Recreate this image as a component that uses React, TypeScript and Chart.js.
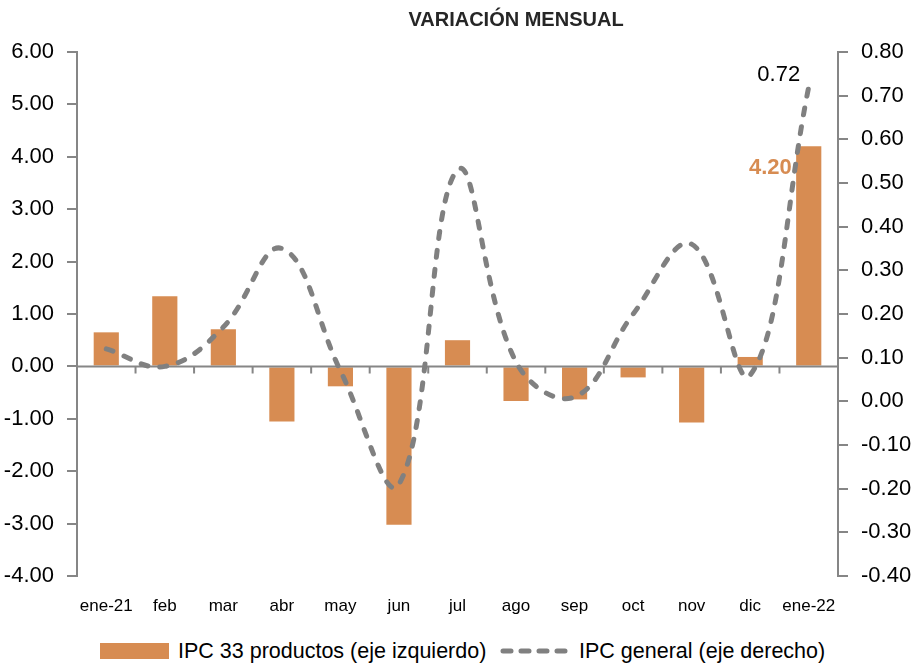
import React, { useEffect, useRef } from "react";
import { Chart, registerables } from "chart.js";

Chart.register(...registerables);

const categories = ["ene-21", "feb", "mar", "abr", "may", "jun", "jul", "ago", "sep", "oct", "nov", "dic", "ene-22"];
const ipc33 = [0.65, 1.34, 0.71, -1.05, -0.38, -3.02, 0.5, -0.66, -0.63, -0.21, -1.07, 0.18, 4.2];
const ipcGeneral = [0.12, 0.08, 0.17, 0.35, 0.07, -0.19, 0.53, 0.09, 0.01, 0.2, 0.36, 0.06, 0.72];
const title = "VARIACIÓN MENSUAL";
const barLabel = "IPC 33 productos (eje izquierdo)";
const lineLabel = "IPC general (eje derecho)";

const FONT = "'Liberation Sans Narrow', 'Liberation Sans', Arial, sans-serif";
const BAR_COLOR = "#D78C52";
const LINE_COLOR = "#808080";
const AXIS_COLOR = "#868686";

const fmt = (v: number) => (Math.abs(v) < 1e-9 ? "0.00" : v.toFixed(2));

const extrasPlugin = {
  id: "extras",
  afterDatasetDraw(chart: any, args: any) {
    if (args.index !== 0) return;
    const { ctx, chartArea } = chart;
    const y0 = chart.scales.y.getPixelForValue(0);
    const xs = chart.scales.x;
    ctx.save();
    ctx.strokeStyle = AXIS_COLOR;
    ctx.lineWidth = 2;
    ctx.beginPath();
    ctx.moveTo(chartArea.left, y0);
    ctx.lineTo(chartArea.right, y0);
    for (let i = 0; i < categories.length - 1; i++) {
      const bx = (xs.getPixelForValue(i) + xs.getPixelForValue(i + 1)) / 2;
      ctx.moveTo(bx, y0);
      ctx.lineTo(bx, y0 + 7);
    }
    ctx.stroke();
    ctx.restore();
  },
  afterDraw(chart: any) {
    const { ctx } = chart;
    ctx.save();
    ctx.fillStyle = "#262626";
    ctx.font = `bold 20px ${FONT}`;
    ctx.textAlign = "center";
    ctx.textBaseline = "middle";
    ctx.fillText(title, chart.width / 2 + 58, 20);
    const last = categories.length - 1;
    const bar = chart.getDatasetMeta(0).data[last];
    const pt = chart.getDatasetMeta(1).data[last];
    ctx.font = `bold 22px ${FONT}`;
    ctx.fillStyle = BAR_COLOR;
    ctx.textAlign = "right";
    ctx.fillText(fmt(ipc33[last]), bar.x - 17, bar.y + 22);
    ctx.font = `22px ${FONT}`;
    ctx.fillStyle = "#000000";
    ctx.textAlign = "center";
    ctx.fillText(fmt(ipcGeneral[last]), pt.x - 30, pt.y - 12);
    ctx.restore();
  },
};

export default function App() {
  const ref = useRef<HTMLCanvasElement | null>(null);
  useEffect(() => {
    if (!ref.current) return;
    const chart = new Chart(ref.current, {
      type: "bar",
      data: {
        labels: categories,
        datasets: [
          {
            type: "bar",
            label: barLabel,
            data: ipc33,
            backgroundColor: BAR_COLOR,
            yAxisID: "y",
            barPercentage: 0.43,
            categoryPercentage: 1,
            order: 1,
          },
          {
            type: "line",
            label: lineLabel,
            data: ipcGeneral,
            borderColor: LINE_COLOR,
            borderWidth: 5,
            borderDash: [7, 12],
            borderCapStyle: "round",
            tension: 0.4,
            pointRadius: 0,
            fill: false,
            yAxisID: "y1",
            order: 0,
          } as any,
        ],
      },
      options: {
        responsive: false,
        animation: false,
        layout: { padding: { top: 52, left: 0, right: 0, bottom: 0 } },
        plugins: { legend: { display: false }, tooltip: { enabled: false }, title: { display: false } },
        scales: {
          x: {
            offset: true,
            grid: { display: false, drawTicks: false },
            border: { display: false },
            ticks: { color: "#000", font: { family: FONT, size: 17 }, padding: 20, maxRotation: 0, autoSkip: false },
            afterFit: (s: any) => {
              s.height = 625 - 576;
            },
          },
          y: {
            position: "left",
            min: -4,
            max: 6,
            grid: { drawOnChartArea: false, drawTicks: true, tickLength: 10, color: AXIS_COLOR, lineWidth: 2 },
            border: { display: true, color: AXIS_COLOR, width: 2 },
            ticks: { stepSize: 1, callback: (v: any) => fmt(Number(v)), color: "#000", font: { family: FONT, size: 22 }, padding: 13 },
            afterFit: (s: any) => {
              s.width = 77;
            },
          },
          y1: {
            position: "right",
            min: -0.4,
            max: 0.8,
            grid: { drawOnChartArea: false, drawTicks: true, tickLength: 10, color: AXIS_COLOR, lineWidth: 2 },
            border: { display: true, color: AXIS_COLOR, width: 2 },
            ticks: { stepSize: 0.1, callback: (v: any) => fmt(Number(v)), color: "#000", font: { family: FONT, size: 22 }, padding: 13 },
            afterFit: (s: any) => {
              s.width = 78;
            },
          },
        },
      },
      plugins: [extrasPlugin],
    });
    return () => chart.destroy();
  }, []);

  const legendText: React.CSSProperties = { fontFamily: FONT, fontSize: 21.5, color: "#000", whiteSpace: "nowrap", position: "absolute", top: 637, lineHeight: "28px" };

  return (
    <div style={{ position: "absolute", left: 0, top: 0, width: 916, height: 665, background: "#fff", overflow: "hidden" }}>
      <canvas ref={ref} width={916} height={625} style={{ display: "block", width: 916, height: 625 }} />
      <div style={{ position: "absolute", left: 100, top: 643, width: 69, height: 16, background: BAR_COLOR }} />
      <div style={{ ...legendText, left: 178 }}>{barLabel}</div>
      <svg style={{ position: "absolute", left: 499, top: 644 }} width={78} height={14}>
        <line x1={4} y1={7} x2={72} y2={7} stroke={LINE_COLOR} strokeWidth={5} strokeDasharray="8 10" strokeLinecap="round" />
      </svg>
      <div style={{ ...legendText, left: 579 }}>{lineLabel}</div>
    </div>
  );
}
